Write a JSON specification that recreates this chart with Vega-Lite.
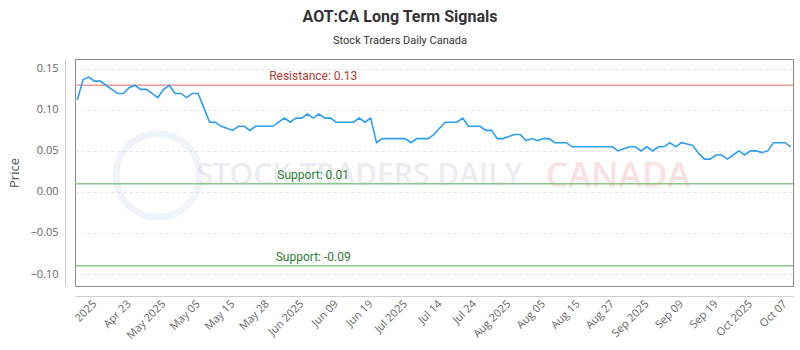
{
  "$schema": "https://vega.github.io/schema/vega-lite/v6.json",
  "width": 718,
  "height": 227,
  "autosize": {"type": "none"},
  "padding": {"left": 75, "top": 59, "right": 7, "bottom": 64},
  "background": "white",
  "title": {
    "text": "AOT:CA Long Term Signals",
    "subtitle": "Stock Traders Daily Canada",
    "anchor": "middle",
    "dx": -34,
    "offset": 13,
    "font": "Roboto",
    "fontSize": 16,
    "fontWeight": "bold",
    "color": "#333333",
    "subtitleFont": "Roboto",
    "subtitleFontSize": 11,
    "subtitleColor": "#333333",
    "subtitlePadding": 10
  },
  "config": {
    "view": {"stroke": "#888888", "strokeWidth": 1},
    "axis": {
      "labelFont": "Open Sans",
      "titleFont": "Open Sans",
      "labelColor": "#666666",
      "titleColor": "#555555",
      "domainColor": "#cccccc",
      "ticks": false
    }
  },
  "datasets": {
    "prices": [
      {"date": "2025-04-10", "price": 0.112},
      {"date": "2025-04-11", "price": 0.137},
      {"date": "2025-04-14", "price": 0.14},
      {"date": "2025-04-15", "price": 0.135},
      {"date": "2025-04-16", "price": 0.135},
      {"date": "2025-04-17", "price": 0.13},
      {"date": "2025-04-21", "price": 0.125},
      {"date": "2025-04-22", "price": 0.12},
      {"date": "2025-04-23", "price": 0.12},
      {"date": "2025-04-24", "price": 0.127},
      {"date": "2025-04-25", "price": 0.13},
      {"date": "2025-04-28", "price": 0.125},
      {"date": "2025-04-29", "price": 0.125},
      {"date": "2025-04-30", "price": 0.12},
      {"date": "2025-05-01", "price": 0.115},
      {"date": "2025-05-02", "price": 0.125},
      {"date": "2025-05-05", "price": 0.13},
      {"date": "2025-05-06", "price": 0.12},
      {"date": "2025-05-07", "price": 0.12},
      {"date": "2025-05-08", "price": 0.115},
      {"date": "2025-05-09", "price": 0.12},
      {"date": "2025-05-12", "price": 0.12},
      {"date": "2025-05-13", "price": 0.1025},
      {"date": "2025-05-14", "price": 0.085},
      {"date": "2025-05-15", "price": 0.085},
      {"date": "2025-05-16", "price": 0.08},
      {"date": "2025-05-20", "price": 0.0775},
      {"date": "2025-05-21", "price": 0.075},
      {"date": "2025-05-22", "price": 0.08},
      {"date": "2025-05-23", "price": 0.08},
      {"date": "2025-05-26", "price": 0.075},
      {"date": "2025-05-27", "price": 0.08},
      {"date": "2025-05-28", "price": 0.08},
      {"date": "2025-05-29", "price": 0.08},
      {"date": "2025-05-30", "price": 0.08},
      {"date": "2025-06-02", "price": 0.085},
      {"date": "2025-06-03", "price": 0.09},
      {"date": "2025-06-04", "price": 0.085},
      {"date": "2025-06-05", "price": 0.09},
      {"date": "2025-06-06", "price": 0.09},
      {"date": "2025-06-09", "price": 0.095},
      {"date": "2025-06-10", "price": 0.09},
      {"date": "2025-06-11", "price": 0.095},
      {"date": "2025-06-12", "price": 0.09},
      {"date": "2025-06-13", "price": 0.09},
      {"date": "2025-06-16", "price": 0.085},
      {"date": "2025-06-17", "price": 0.085},
      {"date": "2025-06-18", "price": 0.085},
      {"date": "2025-06-19", "price": 0.085},
      {"date": "2025-06-20", "price": 0.09},
      {"date": "2025-06-23", "price": 0.085},
      {"date": "2025-06-24", "price": 0.09},
      {"date": "2025-06-25", "price": 0.06},
      {"date": "2025-06-26", "price": 0.065},
      {"date": "2025-06-27", "price": 0.065},
      {"date": "2025-06-30", "price": 0.065},
      {"date": "2025-07-02", "price": 0.065},
      {"date": "2025-07-03", "price": 0.065},
      {"date": "2025-07-04", "price": 0.06},
      {"date": "2025-07-07", "price": 0.065},
      {"date": "2025-07-08", "price": 0.065},
      {"date": "2025-07-09", "price": 0.065},
      {"date": "2025-07-10", "price": 0.07},
      {"date": "2025-07-11", "price": 0.078},
      {"date": "2025-07-14", "price": 0.085},
      {"date": "2025-07-15", "price": 0.085},
      {"date": "2025-07-16", "price": 0.085},
      {"date": "2025-07-17", "price": 0.09},
      {"date": "2025-07-18", "price": 0.08},
      {"date": "2025-07-21", "price": 0.08},
      {"date": "2025-07-22", "price": 0.08},
      {"date": "2025-07-23", "price": 0.075},
      {"date": "2025-07-24", "price": 0.075},
      {"date": "2025-07-25", "price": 0.065},
      {"date": "2025-07-28", "price": 0.065},
      {"date": "2025-07-29", "price": 0.0675},
      {"date": "2025-07-30", "price": 0.07},
      {"date": "2025-07-31", "price": 0.07},
      {"date": "2025-08-01", "price": 0.0625},
      {"date": "2025-08-05", "price": 0.065},
      {"date": "2025-08-06", "price": 0.0625},
      {"date": "2025-08-07", "price": 0.065},
      {"date": "2025-08-08", "price": 0.065},
      {"date": "2025-08-11", "price": 0.06},
      {"date": "2025-08-12", "price": 0.06},
      {"date": "2025-08-13", "price": 0.06},
      {"date": "2025-08-14", "price": 0.055},
      {"date": "2025-08-15", "price": 0.055},
      {"date": "2025-08-18", "price": 0.055},
      {"date": "2025-08-19", "price": 0.055},
      {"date": "2025-08-20", "price": 0.055},
      {"date": "2025-08-21", "price": 0.055},
      {"date": "2025-08-22", "price": 0.055},
      {"date": "2025-08-25", "price": 0.055},
      {"date": "2025-08-26", "price": 0.05},
      {"date": "2025-08-27", "price": 0.0525},
      {"date": "2025-08-28", "price": 0.055},
      {"date": "2025-08-29", "price": 0.055},
      {"date": "2025-09-02", "price": 0.05},
      {"date": "2025-09-03", "price": 0.055},
      {"date": "2025-09-04", "price": 0.05},
      {"date": "2025-09-05", "price": 0.055},
      {"date": "2025-09-08", "price": 0.055},
      {"date": "2025-09-09", "price": 0.06},
      {"date": "2025-09-10", "price": 0.055},
      {"date": "2025-09-11", "price": 0.06},
      {"date": "2025-09-12", "price": 0.0585},
      {"date": "2025-09-15", "price": 0.0565},
      {"date": "2025-09-16", "price": 0.047},
      {"date": "2025-09-17", "price": 0.04},
      {"date": "2025-09-18", "price": 0.04},
      {"date": "2025-09-19", "price": 0.045},
      {"date": "2025-09-22", "price": 0.045},
      {"date": "2025-09-23", "price": 0.04},
      {"date": "2025-09-24", "price": 0.045},
      {"date": "2025-09-25", "price": 0.05},
      {"date": "2025-09-26", "price": 0.045},
      {"date": "2025-09-29", "price": 0.05},
      {"date": "2025-09-30", "price": 0.05},
      {"date": "2025-10-01", "price": 0.048},
      {"date": "2025-10-02", "price": 0.05},
      {"date": "2025-10-03", "price": 0.06},
      {"date": "2025-10-06", "price": 0.06},
      {"date": "2025-10-07", "price": 0.06},
      {"date": "2025-10-08", "price": 0.055}
    ],
    "levels": [
      {"level": "Resistance", "value": 0.13, "label": "Resistance: 0.13"},
      {"level": "Support", "value": 0.01, "label": "Support: 0.01"},
      {"level": "Support", "value": -0.09, "label": "Support: -0.09"}
    ]
  },
  "data": {"name": "prices"},
  "layer": [
    {
      "transform": [{"filter": "datum.date == '2025-05-01'"}],
      "mark": {"type": "point", "filled": false, "strokeWidth": 7, "color": "#dfe6f1", "opacity": 0.45, "size": 7000},
      "encoding": {
        "x": {"field": "date", "type": "ordinal"},
        "y": {"datum": 0.02, "type": "quantitative"}
      }
    },
    {
      "transform": [{"filter": "datum.date == '2025-06-20'"}],
      "mark": {"type": "text", "font": "Open Sans", "fontSize": 30, "fontWeight": 600, "color": "#d5dce8", "opacity": 0.5, "align": "center", "baseline": "middle"},
      "encoding": {
        "x": {"field": "date", "type": "ordinal"},
        "y": {"datum": 0.02, "type": "quantitative"},
        "text": {"value": "STOCK TRADERS DAILY"}
      }
    },
    {
      "transform": [{"filter": "datum.date == '2025-08-26'"}],
      "mark": {"type": "text", "font": "Open Sans", "fontSize": 35, "fontWeight": 600, "color": "#f5c5c5", "opacity": 0.5, "align": "center", "baseline": "middle"},
      "encoding": {
        "x": {"field": "date", "type": "ordinal"},
        "y": {"datum": 0.02, "type": "quantitative"},
        "text": {"value": "CANADA"}
      }
    },
    {
      "data": {"name": "levels"},
      "mark": {"type": "rule", "strokeWidth": 1.5},
      "encoding": {
        "y": {"field": "value", "type": "quantitative"},
        "color": {"field": "level", "type": "nominal", "scale": {"domain": ["Resistance", "Support"], "range": ["#f09a94", "#8ac88a"]}, "legend": null}
      }
    },
    {
      "transform": [{"filter": "datum.date == '2025-06-10'"}],
      "mark": {"type": "text", "font": "Roboto", "fontSize": 12, "color": "#b23b30", "dy": -9, "align": "center", "baseline": "middle"},
      "encoding": {
        "x": {"field": "date", "type": "ordinal"},
        "y": {"datum": 0.13, "type": "quantitative"},
        "text": {"value": "Resistance: 0.13"}
      }
    },
    {
      "transform": [{"filter": "datum.date == '2025-06-10'"}],
      "mark": {"type": "text", "font": "Roboto", "fontSize": 12, "color": "#2e7d32", "dy": -9, "align": "center", "baseline": "middle"},
      "encoding": {
        "x": {"field": "date", "type": "ordinal"},
        "y": {"datum": 0.01, "type": "quantitative"},
        "text": {"value": "Support: 0.01"}
      }
    },
    {
      "transform": [{"filter": "datum.date == '2025-06-10'"}],
      "mark": {"type": "text", "font": "Roboto", "fontSize": 12, "color": "#2e7d32", "dy": -9, "align": "center", "baseline": "middle"},
      "encoding": {
        "x": {"field": "date", "type": "ordinal"},
        "y": {"datum": -0.09, "type": "quantitative"},
        "text": {"value": "Support: -0.09"}
      }
    },
    {
      "mark": {"type": "line", "color": "#2a9df4", "strokeWidth": 1.6, "interpolate": "linear"},
      "encoding": {
        "x": {
          "field": "date",
          "type": "ordinal",
          "scale": {"type": "point", "padding": 0.4},
          "axis": {
            "title": null,
            "offset": 10,
            "grid": false,
            "labelAngle": -45,
            "labelAlign": "right",
            "labelBaseline": "middle",
            "labelFontSize": 11,
            "labelPadding": 6,
            "values": ["2025-04-15", "2025-04-24", "2025-05-02", "2025-05-12", "2025-05-21", "2025-05-29", "2025-06-06", "2025-06-16", "2025-06-24", "2025-07-03", "2025-07-11", "2025-07-21", "2025-07-29", "2025-08-07", "2025-08-15", "2025-08-25", "2025-09-03", "2025-09-11", "2025-09-19", "2025-09-29", "2025-10-07"],
            "labelExpr": "['2025','Apr 23','May 2025','May 05','May 15','May 28','Jun 2025','Jun 09','Jun 19','Jul 2025','Jul 14','Jul 24','Aug 2025','Aug 05','Aug 15','Aug 27','Sep 2025','Sep 09','Sep 19','Oct 2025','Oct 07'][indexof(['2025-04-15','2025-04-24','2025-05-02','2025-05-12','2025-05-21','2025-05-29','2025-06-06','2025-06-16','2025-06-24','2025-07-03','2025-07-11','2025-07-21','2025-07-29','2025-08-07','2025-08-15','2025-08-25','2025-09-03','2025-09-11','2025-09-19','2025-09-29','2025-10-07'], datum.value)]"
          }
        },
        "y": {
          "field": "price",
          "type": "quantitative",
          "scale": {"domain": [-0.1146, 0.162], "nice": false, "zero": false},
          "axis": {
            "title": "Price",
            "titleFontSize": 13,
            "titleFontWeight": "normal",
            "titlePadding": 8,
            "offset": 10,
            "values": [-0.1, -0.05, 0, 0.05, 0.1, 0.15],
            "format": ".2f",
            "labelFontSize": 11,
            "labelPadding": 7,
            "grid": true,
            "gridColor": "#e3e3e3",
            "gridDash": [3, 3]
          }
        }
      }
    }
  ]
}
